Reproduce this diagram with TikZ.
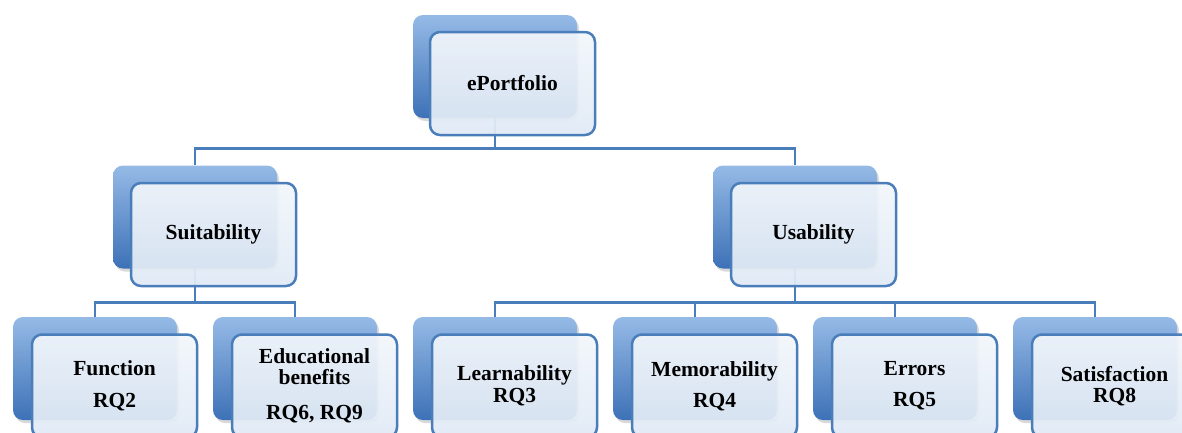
\documentclass[tikz,border=0pt]{standalone}
\usepackage{fontspec}
\setmainfont{Liberation Serif}
\usetikzlibrary{shadows}
\definecolor{lineblue}{HTML}{4A7EBB}
\definecolor{backtop}{HTML}{95BAE6}
\definecolor{backbot}{HTML}{3D71B7}
\definecolor{fronttop}{HTML}{F2F6FB}
\definecolor{frontbot}{HTML}{E0EAF5}
\tikzset{
  backbox/.style={rounded corners=10pt, minimum width=164pt, minimum height=103pt,
    inner sep=0pt, top color=backtop, bottom color=backbot, draw=none,
    drop shadow={opacity=0.3, shadow xshift=2pt, shadow yshift=-3pt}},
  frontbox/.style={rounded corners=10pt, minimum width=165pt, minimum height=103pt,
    inner sep=0pt, draw=lineblue, line width=2.5pt, top color=fronttop, bottom color=frontbot,
    fill opacity=0.93, text opacity=1, align=center,
    font=\fontsize{21.5}{22}\selectfont\bfseries},
  conn/.style={draw=lineblue, line width=2.8pt}
}
\begin{document}
\begin{tikzpicture}[x=1pt,y=-1pt]
\useasboundingbox (0,0) rectangle (1182,432);
\clip (0,0) rectangle (1182,432);
% back boxes
\node[backbox] (b0) at (495,66.5) {};
\node[backbox] (b1) at (195,217) {};
\node[backbox] (b2) at (795,217) {};
\node[backbox] (b3) at (95,368.5) {};
\node[backbox] (b4) at (295,368.5) {};
\node[backbox] (b5) at (495,368.5) {};
\node[backbox] (b6) at (695,368.5) {};
\node[backbox] (b7) at (895,368.5) {};
\node[backbox] (b8) at (1095,368.5) {};
% connectors
\coordinate (j0) at ([yshift=-30pt]b0.south);
\coordinate (j1) at ([yshift=-33.5pt]b1.south);
\coordinate (j2) at ([yshift=-33.5pt]b2.south);
\draw[conn] (b0.south) -- (j0);
\draw[conn] (j0) -| (b1.north);
\draw[conn] (j0) -| (b2.north);
\draw[conn] (b1.south) -- (j1);
\draw[conn] (j1) -| (b3.north);
\draw[conn] (j1) -| (b4.north);
\draw[conn] (b2.south) -- (j2);
\draw[conn] (j2) -| (b5.north);
\draw[conn] (j2) -| (b6.north);
\draw[conn] (j2) -| (b7.north);
\draw[conn] (j2) -| (b8.north);
% front boxes
\node[frontbox] (f0) at (512.5,83.5) {ePortfolio};
\node[frontbox] (f1) at (213.5,234.5) {Suitability};
\node[frontbox] (f2) at (813.5,234.5) {Usability};
\node[frontbox] (f3) at (114.5,386) {Function\\[10pt]RQ2};
\node[frontbox] (f4) at (314.5,386) {Educational\\[-1pt]benefits\\[13pt]RQ6, RQ9};
\node[frontbox] (f5) at (514.5,386) {Learnability\\RQ3};
\node[frontbox] (f6) at (714.5,386) {Memorability\\[9pt]RQ4};
\node[frontbox] (f7) at (914.5,386) {Errors\\[9pt]RQ5};
\node[frontbox] (f8) at (1114.5,386) {Satisfaction\\[-1pt]RQ8};
\end{tikzpicture}
\end{document}
